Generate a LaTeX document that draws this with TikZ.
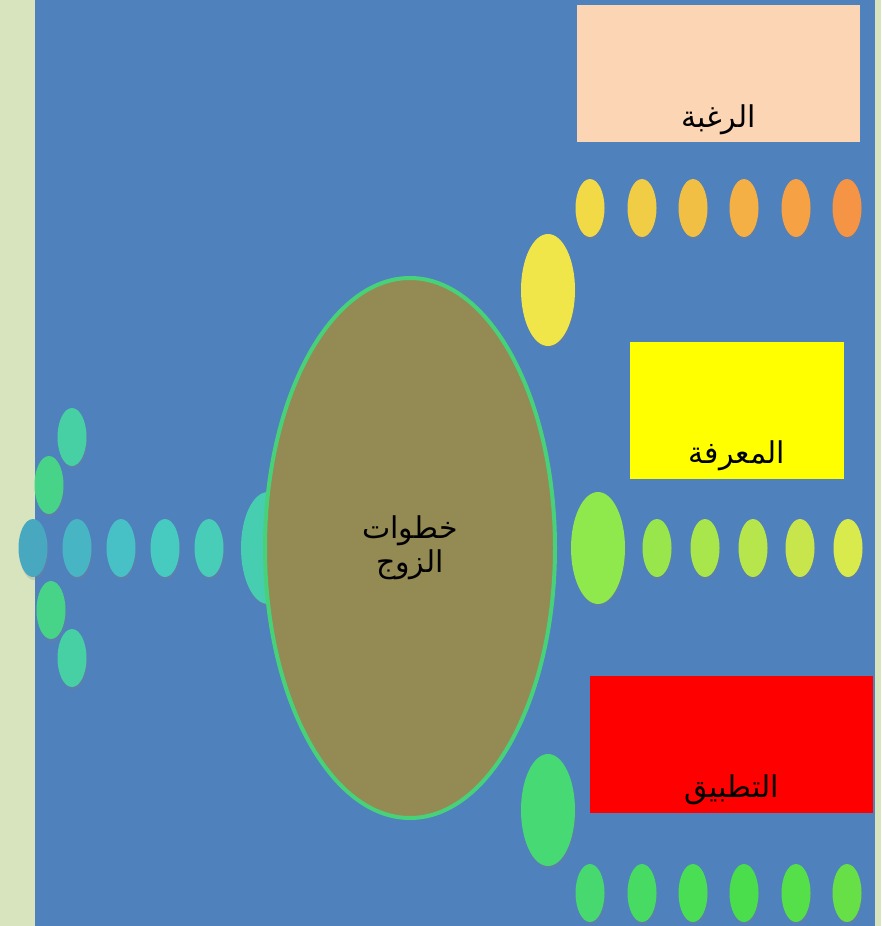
\documentclass[tikz,border=0pt]{standalone}
\usepackage{fontspec}
\usetikzlibrary{shapes.geometric,shadows}
\newfontfamily\arabicfont[Script=Arabic]{DejaVu Sans}
\TeXXeTstate=1
\definecolor{backblue}{HTML}{4F81BD}
\definecolor{stripc}{HTML}{D7E4BD}
\definecolor{olivec}{HTML}{948A54}
\definecolor{rimc}{HTML}{47D27A}
\definecolor{peachc}{HTML}{FCD5B5}
\definecolor{lemonc}{HTML}{FFFF00}
\definecolor{redc}{HTML}{FF0000}
% left branch
\definecolor{lbigc}{HTML}{47CDB0}
\definecolor{leftA}{HTML}{47A8C0}
\definecolor{leftB}{HTML}{47B5C4}
\definecolor{leftC}{HTML}{47C0C6}
\definecolor{leftD}{HTML}{47CAC0}
\definecolor{leftE}{HTML}{47CDB8}
\definecolor{armout}{HTML}{47D0A4}
\definecolor{armin}{HTML}{47D488}
% top row
\definecolor{topbigc}{HTML}{F0E64A}
\definecolor{topA}{HTML}{F2DA46}
\definecolor{topB}{HTML}{F1CC45}
\definecolor{topC}{HTML}{F1BF44}
\definecolor{topD}{HTML}{F4B044}
\definecolor{topE}{HTML}{F6A144}
\definecolor{topF}{HTML}{F69446}
% middle row
\definecolor{midbigc}{HTML}{8FE84C}
\definecolor{midA}{HTML}{99E64C}
\definecolor{midB}{HTML}{A8E64C}
\definecolor{midC}{HTML}{B7E64C}
\definecolor{midD}{HTML}{C8E64C}
\definecolor{midE}{HTML}{D9EB4C}
% bottom row
\definecolor{lowbigc}{HTML}{47D974}
\definecolor{lowA}{HTML}{47D870}
\definecolor{lowB}{HTML}{47DB63}
\definecolor{lowC}{HTML}{4ADE55}
\definecolor{lowD}{HTML}{4ADE4C}
\definecolor{lowE}{HTML}{55E04A}
\definecolor{lowF}{HTML}{66E046}

\begin{document}
\begin{tikzpicture}[x=1pt, y=-1pt,
  dot/.style={ellipse, inner sep=0pt, minimum width=29pt, minimum height=58pt,
    drop shadow={shadow xshift=1pt, shadow yshift=-3pt, opacity=0.22}},
  bigdot/.style={dot, minimum width=54pt, minimum height=112pt},
  box/.style={rectangle, inner sep=0pt},
  word/.style={font=\arabicfont\fontsize{30}{34}\selectfont, anchor=base, inner sep=0pt}]
  % background and side strips
  \fill[backblue] (0,0) rectangle (881,926);
  \fill[stripc] (0,0) rectangle (35,926);
  \fill[stripc] (875,0) rectangle (881,926);
  % left branch
  \node[bigdot, fill=lbigc] (lbig) at (268,548) {};
  \foreach \x/\c [count=\i] in {33/leftA, 77/leftB, 121/leftC, 165/leftD, 209/leftE}
    \node[dot, fill=\c] (left\i) at (\x,548) {};
  \node[dot, fill=armout] (lu1) at (72,437) {};
  \node[dot, fill=armin] (lu2) at (49,485) {};
  \node[dot, fill=armin] (ld1) at (51,610) {};
  \node[dot, fill=armout] (ld2) at (72,658) {};
  % main ellipse
  \node[ellipse, minimum width=290pt, minimum height=540pt, fill=olivec, draw=rimc,
    line width=4pt, inner sep=0pt] (core) at (410,548) {};
  \node[font=\arabicfont\fontsize{30}{34}\selectfont, align=center] (coretext) at (410,548)
    {\beginR خطوات\endR\\\beginR الزوج\endR};
  % desire
  \node[box, fill=peachc, minimum width=283pt, minimum height=137pt] (desire) at (718.5,73.5) {};
  \node[word] (desiretext) at ([yshift=15pt]desire.south) {\beginR الرغبة\endR};
  \node[bigdot, fill=topbigc] (topbig) at (548,290) {};
  \foreach \x/\c [count=\i] in {590/topA, 642/topB, 693/topC, 744/topD, 796/topE, 847/topF}
    \node[dot, fill=\c] (top\i) at (\x,208) {};
  % knowledge
  \node[box, fill=lemonc, minimum width=214pt, minimum height=137pt] (know) at (737,410.5) {};
  \node[word] (knowtext) at ([yshift=16pt]know.south) {\beginR المعرفة\endR};
  \node[bigdot, fill=midbigc] (midbig) at (598,548) {};
  \foreach \x/\c [count=\i] in {657/midA, 705/midB, 753/midC, 800/midD, 848/midE}
    \node[dot, fill=\c] (mid\i) at (\x,548) {};
  % practice
  \node[box, fill=redc, minimum width=283pt, minimum height=137pt] (apply) at (731.5,744.5) {};
  \node[word] (applytext) at ([yshift=16pt]apply.south) {\beginR التطبيق\endR};
  \node[bigdot, fill=lowbigc] (lowbig) at (548,810) {};
  \foreach \x/\c [count=\i] in {590/lowA, 642/lowB, 693/lowC, 744/lowD, 796/lowE, 847/lowF}
    \node[dot, fill=\c] (low\i) at (\x,893) {};
\end{tikzpicture}
\end{document}
